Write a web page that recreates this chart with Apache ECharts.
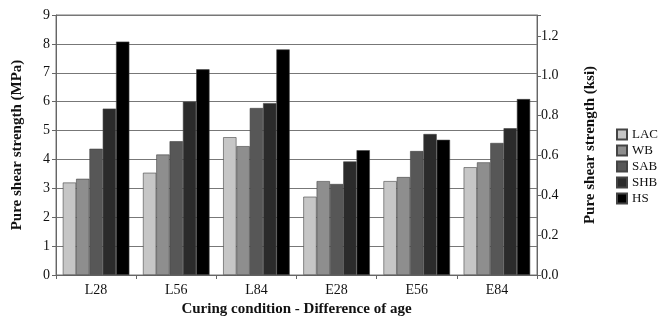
<!DOCTYPE html>
<html><head><meta charset="utf-8">
<script src="https://cdn.jsdelivr.net/npm/echarts@6/dist/echarts.min.js"></script>
<style>html,body{margin:0;padding:0;background:#fff}#c{width:667px;height:325px}</style>
</head><body><div id="c"></div>
<script>
const categories = ['L28','L56','L84','E28','E56','E84'];
const seriesNames = ['LAC','WB','SAB','SHB','HS'];
const LAC = [3.20, 3.54, 4.77, 2.71, 3.25, 3.73];
const WB  = [3.33, 4.17, 4.46, 3.25, 3.39, 3.90];
const SAB = [4.37, 4.63, 5.78, 3.15, 4.29, 4.57];
const SHB = [5.76, 6.00, 5.95, 3.93, 4.88, 5.08];
const HS  = [8.08, 7.12, 7.81, 4.32, 4.68, 6.09];
const colors = ['#c6c6c6','#8e8e8e','#575757','#2b2b2b','#000000'];
const seriesData = [LAC, WB, SAB, SHB, HS];
const font = 'Liberation Serif';
const chart = echarts.init(document.getElementById('c'), null, {renderer:'canvas'});
chart.setOption({
  animation:false,
  textStyle:{fontFamily:font},
  grid:{left:56, right:130, top:15, bottom:50, show:true, borderColor:'#777', borderWidth:1},
  legend:{orient:'vertical', left:611, top:123, itemWidth:10, itemHeight:10, itemGap:3, icon:'rect',
    textStyle:{fontFamily:font, fontSize:13, color:'#111'}, data:seriesNames},
  xAxis:{type:'category', data:categories,
    name:'Curing condition - Difference of age', nameLocation:'middle', nameGap:26,
    nameTextStyle:{fontFamily:font, fontWeight:'bold', fontSize:15, color:'#111'},
    axisLine:{lineStyle:{color:'#666'}}, axisTick:{show:true, lineStyle:{color:'#666'}, length:4},
    axisLabel:{fontFamily:font, fontSize:14, color:'#111', margin:8}},
  yAxis:[
    {type:'value', min:0, max:9, interval:1, name:'Pure shear strength (MPa)', nameLocation:'middle', nameGap:31,
     nameTextStyle:{fontFamily:font, fontWeight:'bold', fontSize:15, color:'#111'},
     axisLine:{show:true, lineStyle:{color:'#666'}}, axisTick:{show:true, length:4, lineStyle:{color:'#666'}},
     splitLine:{lineStyle:{color:'#777', width:1}},
     axisLabel:{fontFamily:font, fontSize:14, color:'#111', margin:6}},
    {type:'value', min:0, max:1.305, interval:0.2, position:'right', name:'Pure shear strength (ksi)', nameLocation:'middle', nameGap:46,
     nameRotate:90,
     nameTextStyle:{fontFamily:font, fontWeight:'bold', fontSize:15, color:'#111'},
     axisLine:{show:true, lineStyle:{color:'#666'}}, axisTick:{show:true, length:4, lineStyle:{color:'#666'}},
     splitLine:{show:false},
     axisLabel:{fontFamily:font, fontSize:14, color:'#111', margin:4,
       formatter:v => (v > 1.25 ? '' : v.toFixed(1))}}
  ],
  series: seriesNames.map((n,i)=>({
    name:n, type:'bar', data:seriesData[i], barGap:'0%', barCategoryGap:'17%',
    itemStyle:{color:colors[i], borderColor:'#444', borderWidth:0.6}
  }))
});
</script></body></html>
